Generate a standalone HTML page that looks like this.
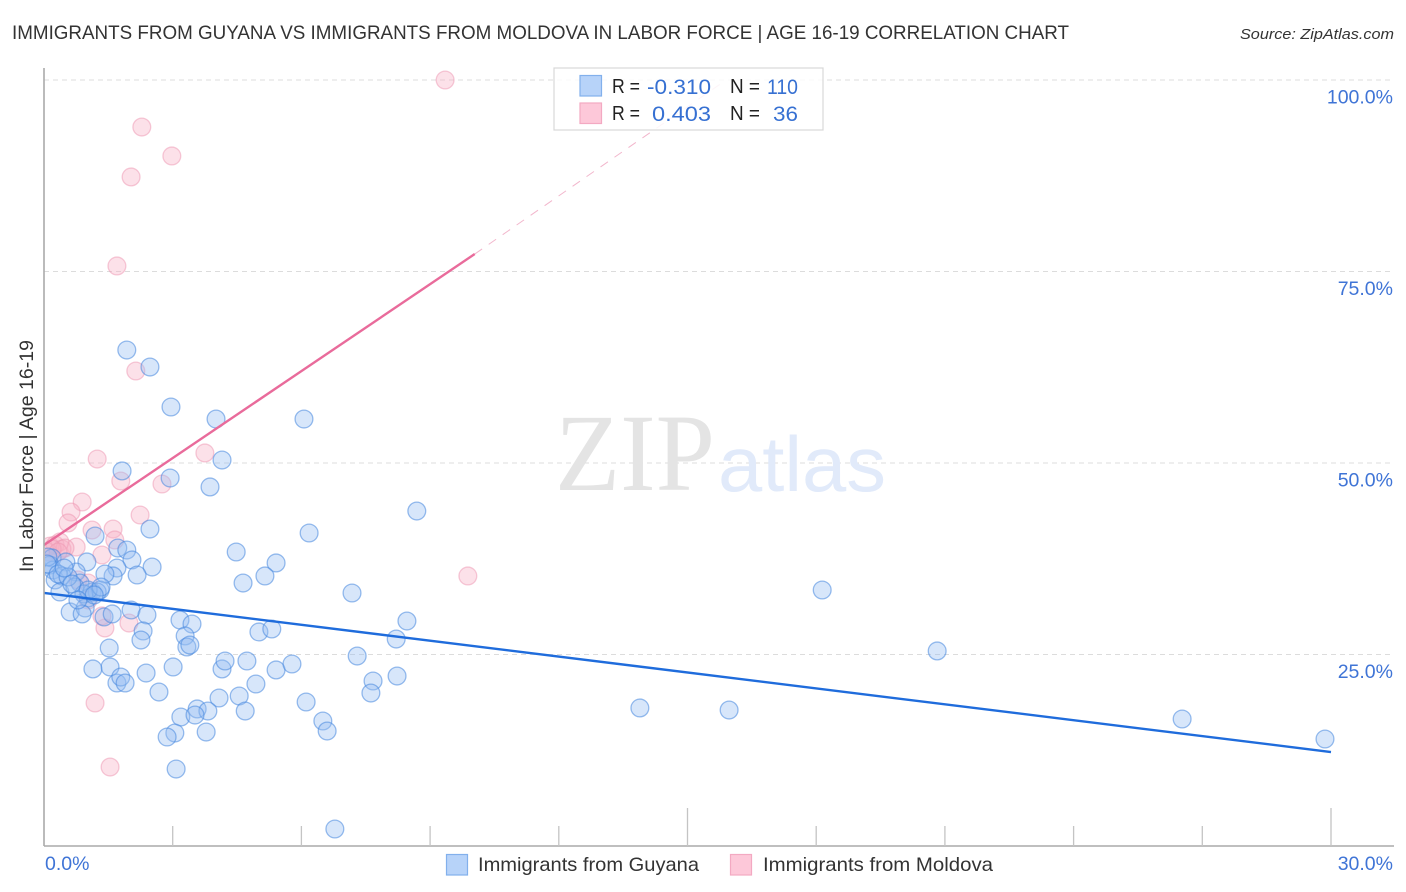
<!DOCTYPE html>
<html lang="en">
<head>
<meta charset="utf-8">
<title>Immigrants from Guyana vs Immigrants from Moldova in Labor Force | Age 16-19 Correlation Chart</title>
<style>
html,body{margin:0;padding:0;background:#fff;}
svg{display:block;font-family:"Liberation Sans",sans-serif;}
</style>
</head>
<body>
<svg id="chart" xmlns="http://www.w3.org/2000/svg" width="1406" height="892" viewBox="0 0 1406 892">
  <defs><clipPath id="plot-clip"><rect x="45" y="60" width="1349" height="786"/></clipPath></defs>
  <text x="12" y="39" font-size="19.5" fill="#333" textLength="1057" lengthAdjust="spacingAndGlyphs">IMMIGRANTS FROM GUYANA VS IMMIGRANTS FROM MOLDOVA IN LABOR FORCE | AGE 16-19 CORRELATION CHART</text>
  <text x="1394" y="39" font-size="15" font-style="italic" fill="#333" text-anchor="end" textLength="154" lengthAdjust="spacingAndGlyphs">Source: ZipAtlas.com</text>
  <g id="grid"></g>
  <g>
    <text x="555" y="490" font-family="'Liberation Serif',serif" font-size="110" fill="#e4e4e4" textLength="160" lengthAdjust="spacingAndGlyphs">ZIP</text>
    <text x="718" y="491" font-size="78" fill="#e1eafa" textLength="168" lengthAdjust="spacingAndGlyphs">atlas</text>
  </g>
  <g id="points" clip-path="url(#plot-clip)"></g>
  <g id="trends"></g>
  <g id="axes"></g>
  <text transform="translate(33,456) rotate(-90)" font-size="19" fill="#333" text-anchor="middle" textLength="232" lengthAdjust="spacingAndGlyphs">In Labor Force | Age 16-19</text>

  <g>
    <rect x="554" y="68" width="269" height="62" fill="#fff" fill-opacity="0.85" stroke="#d8d8d8" stroke-width="1.2"/>
    <rect x="580" y="75.5" width="21.5" height="20.5" fill="#b7d3f9" stroke="#82b0ec" stroke-width="1.2"/>
    <rect x="580" y="103" width="21.5" height="20.5" fill="#fdc8d9" stroke="#f3a9c2" stroke-width="1.2"/>
    <g font-size="20" fill="#222">
      <text x="612" y="93" textLength="28" lengthAdjust="spacingAndGlyphs">R =</text>
      <text x="730" y="93" textLength="30" lengthAdjust="spacingAndGlyphs">N =</text>
      <text x="612" y="120" textLength="28" lengthAdjust="spacingAndGlyphs">R =</text>
      <text x="730" y="120" textLength="30" lengthAdjust="spacingAndGlyphs">N =</text>
    </g>
    <g font-size="21.5" fill="#3670d2">
      <text x="647" y="94" textLength="64" lengthAdjust="spacingAndGlyphs">-0.310</text>
      <text x="767" y="94" textLength="31" lengthAdjust="spacingAndGlyphs">110</text>
      <text x="652" y="121" textLength="59" lengthAdjust="spacingAndGlyphs">0.403</text>
      <text x="773" y="121" textLength="25" lengthAdjust="spacingAndGlyphs">36</text>
    </g>
  </g>

  <g>
    <rect x="446.500" y="854.500" width="21" height="20.500" fill="#b7d3f9" stroke="#82b0ec" stroke-width="1.200"/>
    <text x="478" y="871" font-size="19.5" fill="#333" textLength="221" lengthAdjust="spacingAndGlyphs">Immigrants from Guyana</text>
    <rect x="730.500" y="854.500" width="21" height="20.500" fill="#fdc8d9" stroke="#f3a9c2" stroke-width="1.200"/>
    <text x="763" y="871" font-size="19.5" fill="#333" textLength="230" lengthAdjust="spacingAndGlyphs">Immigrants from Moldova</text>
  </g>
</svg>
<script>
const guyanaX = [1.93,2.47,2.96,4.01,6.06,4.15,1.82,2.94,3.87,8.69,2.47,6.18,1.19,1.72,1.93,4.48,2.05,5.41,2.52,1.70,1.00,5.15,2.17,1.61,1.42,4.64,7.18,18.14,0.75,0.19,0.14,0.21,0.51,0.26,0.42,0.84,0.37,1.03,1.12,1.31,1.24,0.72,0.93,0.61,0.96,0.89,1.40,1.59,2.03,2.40,3.17,3.45,8.46,8.21,2.31,2.26,3.29,3.33,3.40,5.01,5.31,1.52,1.54,1.14,2.38,3.01,4.15,4.22,4.73,5.41,5.78,7.30,20.82,1.70,1.79,1.89,2.68,4.94,7.67,8.23,7.62,4.08,4.55,6.11,3.57,13.89,15.97,4.69,3.82,3.19,3.52,6.50,6.60,26.53,3.78,3.05,2.87,29.86,3.08,6.78,0.09,0.07,0.33,0.56,0.65,0.47,1.03,1.33,1.17,0.79];
const guyanaY = [64.75,62.53,57.31,55.74,55.74,50.39,48.96,48.04,46.87,43.73,41.38,40.86,40.47,38.90,38.64,38.38,37.34,36.95,36.42,36.29,37.08,35.25,35.38,35.25,35.51,34.33,33.03,33.42,35.77,37.60,36.68,36.03,37.08,34.73,35.25,34.33,33.16,32.38,33.16,33.42,33.16,33.81,32.90,30.55,31.07,30.29,29.90,30.29,30.81,30.16,29.50,28.98,29.37,27.02,28.07,26.89,27.42,25.98,26.24,27.94,28.33,25.85,23.37,23.11,22.58,23.37,23.11,24.15,24.15,22.98,23.76,24.80,25.46,21.28,22.06,21.28,20.10,21.15,21.54,22.19,19.97,19.32,19.58,18.80,17.89,18.02,17.75,17.62,17.62,16.84,17.10,16.32,15.01,16.58,14.88,14.75,14.23,13.97,10.05,2.22,37.73,36.81,35.51,35.12,34.20,36.29,33.42,33.81,32.77,32.11];
const moldovaX = [9.35,2.28,2.98,2.03,1.70,2.14,1.24,3.75,1.79,2.75,0.89,0.63,0.56,2.24,1.12,1.61,1.65,0.75,9.88,1.35,1.19,1.54,1.98,1.42,1.35,1.03,0.79,0.14,0.26,0.37,0.42,0.49,0.09,0.19,1.03,0.33];
const moldovaY = [100,93.86,90.08,87.34,75.72,62.01,50.52,51.31,47.65,47.26,44.91,43.60,42.17,43.21,41.25,41.38,39.95,39.03,35.25,37.99,18.67,10.31,29.11,28.46,30.03,32.11,34.73,39.16,39.30,39.69,38.77,38.90,38.38,38.77,34.33,38.38];
const guyanaTrendX = [0,30];
const guyanaTrendY = [33.03,12.27];
const moldovaTrendX = [0,10.04];
const moldovaTrendY = [39.3,77.28];
const moldovaDashX = [10.04,15.9];
const moldovaDashY = [77.28,100];
const yTickValues = [25,50,75,100];
const yTickLabels = ["25.0%","50.0%","75.0%","100.0%"];
const xTickValues = [3,6,9,12,15,18,21,24,27,30];
const xMajorTicks = [15,30];
const xEndLabels = ["0.0%","30.0%"];

const NS = "http://www.w3.org/2000/svg";
function xScale(v){ return 44 + v * 42.9; }
function yScale(v){ return 846 - v * 7.66; }
function make(tag, attrs, parent){
  const el = document.createElementNS(NS, tag);
  for (const k in attrs) el.setAttribute(k, attrs[k]);
  parent.appendChild(el);
  return el;
}

const gridG = document.getElementById('grid');
yTickValues.forEach(function(v){
  const line = make('line', {x1:44, x2:1394, y1:yScale(v), y2:yScale(v), stroke:'#dcdcdc', 'stroke-width':1, 'stroke-dasharray':'5 4'}, gridG);
  
  
});

const pointsG = document.getElementById('points');
moldovaX.forEach(function(v, i){
  const c = make('circle', {cx:xScale(v), cy:yScale(moldovaY[i]), r:8.9, fill:'rgba(248,176,198,0.38)', stroke:'rgba(238,150,178,0.5)', 'stroke-width':1.3}, pointsG);
  
  
});
guyanaX.forEach(function(v, i){
  const c = make('circle', {cx:xScale(v), cy:yScale(guyanaY[i]), r:8.9, fill:'rgba(150,190,243,0.38)', stroke:'rgba(70,135,222,0.55)', 'stroke-width':1.3}, pointsG);
  
  
});

const trendsG = document.getElementById('trends');
const dashLine = make('line', {x1:xScale(moldovaDashX[0]), y1:yScale(moldovaDashY[0]), x2:xScale(moldovaDashX[1]), y2:yScale(moldovaDashY[1]), stroke:'#f2b6cc', 'stroke-width':1, 'stroke-dasharray':'9 8'}, trendsG);


const moldovaLine = make('line', {x1:xScale(moldovaTrendX[0]), y1:yScale(moldovaTrendY[0]), x2:xScale(moldovaTrendX[1]), y2:yScale(moldovaTrendY[1]), stroke:'#e96b9b', 'stroke-width':2.4}, trendsG);


const guyanaLine = make('line', {x1:xScale(guyanaTrendX[0]), y1:yScale(guyanaTrendY[0]), x2:xScale(guyanaTrendX[1]), y2:yScale(guyanaTrendY[1]), stroke:'#1f6cdc', 'stroke-width':2.4}, trendsG);



const axesG = document.getElementById('axes');
const yAxis = make('line', {x1:44, x2:44, y1:68, y2:846, stroke:'#aaaaaa', 'stroke-width':1.6}, axesG);


const xAxis = make('line', {x1:44, x2:1394, y1:846, y2:846, stroke:'#aaaaaa', 'stroke-width':1.4}, axesG);


xTickValues.forEach(function(v){
  const major = xMajorTicks.indexOf(v) >= 0;
  const t = make('line', {x1:xScale(v), x2:xScale(v), y1:846, y2:major ? 808 : 826, stroke:'#c4c4c4', 'stroke-width':1.3}, axesG);
  
  
});
yTickValues.forEach(function(v, i){
  const label = make('text', {x:1393, y:yScale(v) + 23.500, 'font-size':19.5, fill:'#3f74d6', 'text-anchor':'end'}, axesG);
  label.textContent = yTickLabels[i];
  
  
});
const xStart = make('text', {x:45, y:870, 'font-size':19.5, fill:'#3f74d6'}, axesG);
xStart.textContent = xEndLabels[0];


const xEnd = make('text', {x:1393, y:870, 'font-size':19.5, fill:'#3f74d6', 'text-anchor':'end'}, axesG);
xEnd.textContent = xEndLabels[1];


</script>
</body>
</html>
